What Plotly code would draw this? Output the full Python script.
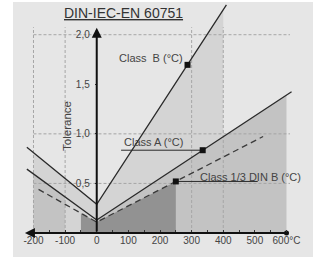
import plotly.graph_objects as go

# ---- data ----
x_ticks = [-200, -100, 0, 100, 200, 300, 400, 500, 600]
x_tick_labels = ["-200", "-100", "0", "100", "200", "300", "400", "500", "600°C"]
y_ticks = [0.5, 1.0, 1.5, 2.0]
y_tick_labels = ["0,5", "1,0", "1,5", "2,0"]
grid_y = [0.5, 1.0, 2.0]
grid_x = [-200, -100, 300, 400]

class_b_t = [-221, -200, 0, 400, 410]
class_b_tol = [0.865, 0.81, 0.29, 2.25, 2.30]

class_a_t = [-221, -200, -100, 0, 335, 600, 616]
class_a_tol = [0.644, 0.595, 0.363, 0.131, 0.835, 1.391, 1.425]

class_13b_t = [-184, -50, 0, 250, 526]
class_13b_tol = [0.44, 0.20, 0.11, 0.52, 0.973]

marker_t = [287, 335, 250]
marker_tol = [1.696, 0.835, 0.52]
label_names = ["Class  B (°C)", "Class A (°C)", "Class 1/3 DIN B (°C)"]

BG = "#e6e6e6"
LIGHT = "#d4d4d4"
MED = "#c3c3c3"
DARK = "#929292"
LINE = "#2a2a2a"
FONT = "Liberation Sans"

fig = go.Figure()

def fill(xs, ys, color):
    fig.add_trace(go.Scatter(x=xs, y=ys, fill="toself", fillcolor=color, mode="lines",
                             line=dict(width=0), hoverinfo="skip", showlegend=False))

# Class B band (-200 .. 400)
fill([class_b_t[1], class_b_t[1], class_b_t[2], class_b_t[3], class_b_t[3]],
     [0, class_b_tol[1], class_b_tol[2], class_b_tol[3], 0], LIGHT)
# Class A band left (-200 .. -100)
fill([class_a_t[1], class_a_t[1], class_a_t[2], class_a_t[2]],
     [0, class_a_tol[1], class_a_tol[2], 0], MED)
# Class A band right (0 .. 600)
fill([class_a_t[3], class_a_t[3], class_a_t[5], class_a_t[5]],
     [0, class_a_tol[3], class_a_tol[5], 0], MED)
# Class 1/3 DIN B band (-50 .. 250)
fill([class_13b_t[1], class_13b_t[1], class_13b_t[2], class_13b_t[3], class_13b_t[3]],
     [0, class_13b_tol[1], class_13b_tol[2], class_13b_tol[3], 0], DARK)

# gridlines (drawn above fills)
for gy in grid_y:
    fig.add_trace(go.Scatter(x=[-200, 611], y=[gy, gy], mode="lines",
                             line=dict(color="#a6a6a6", width=1, dash="3px,2px"),
                             hoverinfo="skip", showlegend=False))
for gx in grid_x:
    fig.add_trace(go.Scatter(x=[gx, gx], y=[0, 2.075], mode="lines",
                             line=dict(color="#a6a6a6", width=1, dash="3px,2px"),
                             hoverinfo="skip", showlegend=False))

# tolerance lines
fig.add_trace(go.Scatter(x=[class_b_t[0], class_b_t[2], class_b_t[4]],
                         y=[class_b_tol[0], class_b_tol[2], class_b_tol[4]],
                         mode="lines", line=dict(color=LINE, width=1.3), showlegend=False))
fig.add_trace(go.Scatter(x=[class_a_t[0], class_a_t[3], class_a_t[6]],
                         y=[class_a_tol[0], class_a_tol[3], class_a_tol[6]],
                         mode="lines", line=dict(color=LINE, width=1.3), showlegend=False))
fig.add_trace(go.Scatter(x=[class_13b_t[0], class_13b_t[2], class_13b_t[4]],
                         y=[class_13b_tol[0], class_13b_tol[2], class_13b_tol[4]],
                         mode="lines", line=dict(color="#3a3a3a", width=1.3, dash="6px,4px"),
                         showlegend=False))

# leader lines under labels
fig.add_trace(go.Scatter(x=[77, marker_t[1]], y=[marker_tol[1], marker_tol[1]], mode="lines",
                         line=dict(color=LINE, width=1), showlegend=False))
fig.add_trace(go.Scatter(x=[marker_t[2], 509], y=[marker_tol[2], marker_tol[2]], mode="lines",
                         line=dict(color=LINE, width=1), showlegend=False))

# markers
fig.add_trace(go.Scatter(x=marker_t, y=marker_tol, mode="markers",
                         marker=dict(symbol="square", size=6, color="#111"), showlegend=False))
fig.add_trace(go.Scatter(x=[600], y=[0], mode="markers",
                         marker=dict(symbol="circle", size=5, color="#111"), showlegend=False,
                         cliponaxis=False))

annotations = [
    # y axis arrow
    dict(x=0, y=2.07, ax=0, ay=0, xref="x", yref="y", axref="x", ayref="y", text="",
         showarrow=True, arrowhead=2, arrowsize=1, arrowwidth=2, arrowcolor="#111", standoff=0),
    # x axis arrow (pointing left)
    dict(x=-227, y=0, ax=608, ay=0, xref="x", yref="y", axref="x", ayref="y", text="",
         showarrow=True, arrowhead=2, arrowsize=1, arrowwidth=2, arrowcolor="#111", standoff=0),
    dict(x=83, y=2.215, xref="x", yref="y", text="<u>DIN-IEC-EN 60751</u>", showarrow=False,
         font=dict(family=FONT, size=14, color="#333")),
    dict(x=-94, y=1.08, xref="x", yref="y", text="Tolerance", textangle=-90, showarrow=False,
         font=dict(family=FONT, size=11.5, color="#444")),
    dict(x=173, y=1.765, xref="x", yref="y", text=label_names[0], showarrow=False,
         font=dict(family=FONT, size=11, color="#444")),
    dict(x=181, y=0.92, xref="x", yref="y", text=label_names[1], showarrow=False,
         font=dict(family=FONT, size=11, color="#444")),
    dict(x=485, y=0.565, xref="x", yref="y", text=label_names[2], showarrow=False,
         font=dict(family=FONT, size=11, color="#444")),
]

L, R, T, B = 24, 26, 1, 24
X0, X1 = -230, 630
fig.update_layout(
    width=322, height=257,
    margin=dict(l=L, r=R, t=T, b=B, pad=0, autoexpand=False),
    paper_bgcolor="white", plot_bgcolor="rgba(0,0,0,0)",
    showlegend=False,
    annotations=annotations,
    shapes=[dict(type="rect", xref="paper", yref="paper",
                 x0=(13 - L) / 272, x1=(313 - L) / 272,
                 y0=(233 - 257) / 232, y1=(233 - 2) / 232,
                 fillcolor=BG, line=dict(width=0), layer="below")],
    xaxis=dict(range=[X0, X1], tickvals=x_ticks, ticktext=x_tick_labels, automargin=False,
               ticks="inside", ticklen=3, tickwidth=1, tickcolor="#333",
               minor=dict(dtick=50, tick0=0, ticks="inside", ticklen=3, tickcolor="#333"),
               showgrid=False, zeroline=False, showline=False,
               tickfont=dict(family=FONT, size=10, color="#444")),
    yaxis=dict(range=[0, 2.34], anchor="free", position=(0 - X0) / (X1 - X0), side="left",
               automargin=False, tickvals=y_ticks, ticktext=y_tick_labels,
               ticks="outside", ticklen=2, tickcolor="#333",
               showgrid=False, zeroline=False, showline=False, ticklabelstandoff=3,
               tickfont=dict(family=FONT, size=10, color="#444")),
)

fig.write_html("out.html", config={"displayModeBar": False, "staticPlot": True},
               post_script="document.body.style.margin='0';document.body.style.padding='0';")
